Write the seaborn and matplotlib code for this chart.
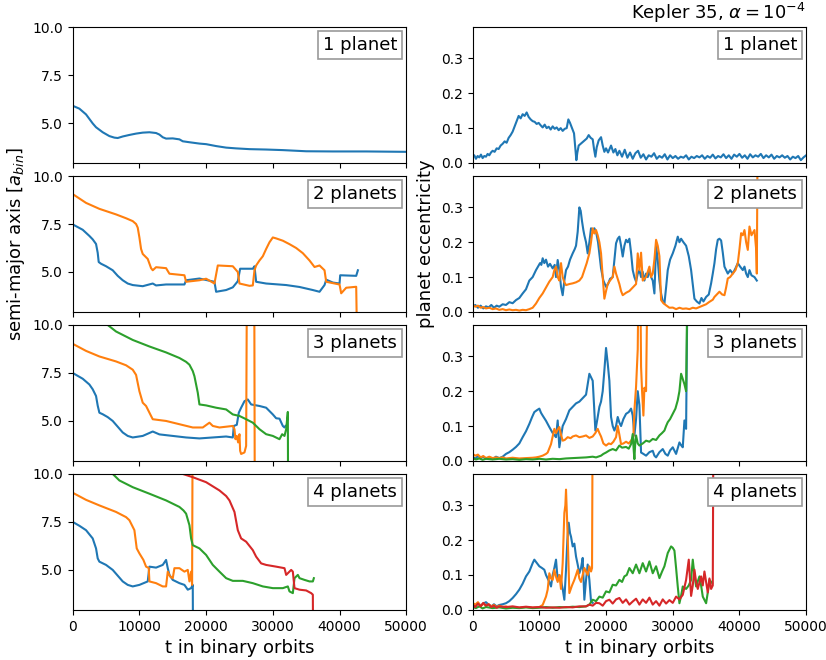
import matplotlib
matplotlib.use("Agg")
import matplotlib.pyplot as plt
import pandas as pd
import seaborn as sns

# Planet tracks (time in binary orbits, value) for Kepler 35, alpha = 1e-4
T_MAX = 50000
PANEL_LABELS = ["1 planet", "2 planets", "3 planets", "4 planets"]
COLORS = ["#1f77b4", "#ff7f0e", "#2ca02c", "#d62728"]

# ---- semi-major axis [a_bin] ----
A1_P1 = [(0, 5.9), (1000, 5.75), (2000, 5.45), (3000, 4.98), (3500, 4.78), (4500, 4.52),
         (5500, 4.32), (6250, 4.24), (6750, 4.22), (7500, 4.3), (8500, 4.38), (9500, 4.45),
         (10500, 4.5), (11500, 4.52), (12500, 4.48), (13000, 4.4), (13500, 4.26),
         (14000, 4.19), (15000, 4.2), (16000, 4.15), (16500, 4.05), (17500, 4.0),
         (19000, 3.93), (20000, 3.9), (21500, 3.8), (23000, 3.72), (24500, 3.68),
         (26500, 3.64), (29000, 3.62), (31500, 3.59), (35000, 3.53), (39000, 3.52),
         (44000, 3.52), (50000, 3.5)]

A2_P1 = [(0, 7.48), (1500, 7.2), (2500, 6.88), (3000, 6.7), (3500, 6.46), (3750, 6.0),
         (3900, 5.52), (4250, 5.43), (5000, 5.3), (6000, 5.09), (6750, 4.8), (7500, 4.57),
         (8250, 4.4), (9000, 4.32), (10500, 4.26), (12000, 4.4), (12500, 4.3), (14000, 4.35),
         (16750, 4.35), (17000, 4.57), (19000, 4.66), (21250, 4.49), (21500, 3.97),
         (23000, 4.06), (24000, 4.2), (24750, 4.52), (25100, 5.17), (27000, 5.17),
         (27250, 5.3), (27500, 4.49), (29000, 4.4), (32000, 4.32), (34000, 4.22),
         (36000, 4.06), (37000, 3.97), (37750, 4.32), (38000, 4.6), (39000, 4.45),
         (40000, 4.4), (40100, 4.83), (42500, 4.8), (42750, 5.09)]
A2_P2 = [(0, 9.06), (2000, 8.6), (4000, 8.29), (6500, 8.0), (8000, 7.8), (9000, 7.65),
         (9500, 7.5), (9750, 7.31), (10000, 6.8), (10250, 6.2), (10500, 5.94),
         (11250, 5.68), (11750, 5.2), (12000, 5.09), (12500, 5.25), (14000, 5.2),
         (14500, 4.91), (16750, 4.83), (17000, 4.49), (19000, 4.57), (20000, 4.65),
         (21250, 4.4), (21750, 5.34), (24000, 5.3), (24750, 5.0), (25000, 4.4),
         (26500, 4.28), (27000, 4.3), (27250, 5.09), (27500, 5.34), (28000, 5.6),
         (28500, 5.82), (29000, 6.2), (29500, 6.55), (30000, 6.8), (30500, 6.75),
         (31500, 6.63), (32500, 6.45), (33500, 6.25), (34500, 5.98), (35500, 5.6),
         (36250, 5.26), (37000, 5.34), (37750, 5.09), (38000, 4.49), (40000, 4.35),
         (40250, 3.89), (41000, 4.18), (42500, 4.23), (42600, 2.0)]

A3_P1 = [(0, 7.5), (1500, 7.2), (2500, 6.9), (3000, 6.65), (3500, 6.3), (3750, 5.8),
         (4000, 5.43), (4500, 5.35), (5250, 5.2), (6000, 5.0), (6750, 4.7), (7500, 4.4),
         (8250, 4.22), (9000, 4.14), (10500, 4.22), (12000, 4.45), (13000, 4.3),
         (15000, 4.22), (17000, 4.14), (19000, 4.09), (21000, 4.14), (23000, 4.19),
         (24000, 4.14), (24150, 4.74), (24600, 4.8), (24900, 5.43), (25250, 5.69),
         (25750, 6.03), (26250, 6.12), (26750, 5.86), (28000, 5.78), (29000, 5.69),
         (30000, 5.34), (30500, 5.14), (31000, 5.12), (31500, 4.74), (31750, 4.66),
         (31900, 4.74)]
A3_P2 = [(0, 9.02), (2000, 8.65), (4000, 8.36), (6500, 8.1), (8000, 7.9), (9000, 7.67),
         (9500, 7.4), (10000, 6.55), (10500, 5.95), (11000, 5.78), (11750, 5.26),
         (12000, 5.09), (14000, 5.0), (16000, 4.83), (18000, 4.66), (19500, 4.66),
         (20500, 4.91), (21000, 4.74), (22000, 4.66), (24000, 4.74), (24250, 4.57),
         (24400, 4.05), (24600, 4.22), (24800, 3.88), (25000, 4.31), (25100, 3.45),
         (25250, 3.28), (25750, 3.36), (26000, 3.7), (26150, 15.0), (27200, 15.0),
         (27300, 0.0)]
A3_P3 = [(0, 11.0), (5250, 10.0), (6500, 9.66), (9000, 9.22), (11500, 8.88), (14000, 8.57),
         (16000, 8.28), (17000, 8.08), (17500, 7.93), (18000, 7.6), (18250, 7.33),
         (18750, 6.47), (19000, 5.86), (20000, 5.81), (21500, 5.69), (23000, 5.6),
         (24000, 5.34), (25000, 5.26), (26000, 5.09), (27000, 4.91), (28000, 4.57),
         (29000, 4.31), (30000, 4.22), (31000, 4.05), (31400, 4.31), (31750, 4.22),
         (32000, 4.57), (32250, 5.47), (32300, 0.0)]

A4_P1 = [(0, 7.5), (1000, 7.3), (2000, 7.07), (3000, 6.64), (3500, 6.12), (3750, 5.6),
         (4000, 5.43), (5000, 5.26), (6000, 5.0), (6750, 4.7), (7500, 4.4), (8250, 4.22),
         (9000, 4.14), (10000, 4.22), (11250, 4.4), (11500, 5.17), (12500, 5.12),
         (13500, 5.26), (14000, 5.52), (14250, 5.09), (14500, 4.74), (15000, 4.48),
         (16000, 4.31), (16750, 4.22), (17250, 3.97), (17750, 4.05), (18000, 4.22),
         (18050, 0.0)]
A4_P2 = [(0, 9.02), (2000, 8.65), (4000, 8.36), (6500, 8.02), (8000, 7.75), (8500, 7.59),
         (9250, 7.07), (9600, 6.12), (10000, 5.86), (10600, 5.52), (11000, 5.17),
         (11400, 5.1), (11500, 4.4), (12500, 4.31), (13500, 4.14), (14000, 4.14),
         (14250, 4.91), (14600, 4.66), (15000, 4.57), (15250, 5.09), (16000, 5.09),
         (16750, 4.91), (17250, 5.0), (17500, 4.4), (17750, 4.91), (17900, 4.22),
         (18000, 15.0)]
A4_P3 = [(0, 11.2), (6000, 10.0), (7000, 9.66), (9000, 9.31), (11500, 8.97), (14000, 8.62),
         (16000, 8.28), (16600, 8.1), (17000, 7.93), (17500, 7.33), (17750, 6.64),
         (18000, 6.29), (19000, 6.12), (20000, 5.78), (21000, 5.26), (22000, 4.91),
         (23000, 4.57), (24000, 4.43), (25500, 4.43), (27000, 4.31), (28500, 4.14),
         (30000, 4.05), (31500, 4.05), (32250, 4.14), (32500, 3.88), (33000, 3.79),
         (33250, 4.57), (33750, 4.74), (34000, 4.57), (34750, 4.48), (35500, 4.4),
         (36000, 4.4), (36150, 4.57)]
A4_P4 = [(0, 12.2), (8000, 11.2), (16500, 10.0), (18000, 9.83), (20000, 9.57),
         (22000, 9.14), (23000, 8.85), (23500, 8.62), (24250, 8.02), (24750, 7.07),
         (25250, 6.64), (26000, 6.47), (27000, 6.03), (27500, 5.69), (28250, 5.34),
         (29000, 5.26), (30500, 5.17), (31750, 5.09), (32000, 4.74), (32750, 5.0),
         (33000, 4.91), (33250, 4.05), (34000, 3.97), (35000, 3.93), (35750, 3.79),
         (36000, 3.71), (36050, 0.0)]

# ---- planet eccentricity ----
E1_P1 = [(0, 0.015), (250, 0.022), (500, 0.012), (750, 0.02), (1000, 0.016), (1250, 0.024),
         (1500, 0.014), (1750, 0.02), (2000, 0.018), (2250, 0.026), (2500, 0.022),
         (2750, 0.03), (3000, 0.035), (3300, 0.032), (3600, 0.042), (3900, 0.04),
         (4200, 0.05), (4500, 0.055), (4800, 0.062), (5100, 0.058), (5400, 0.072),
         (5700, 0.08), (6000, 0.09), (6300, 0.105), (6600, 0.12), (6900, 0.135),
         (7200, 0.128), (7500, 0.14), (7800, 0.135), (8100, 0.145), (8400, 0.132),
         (8700, 0.125), (9000, 0.12), (9300, 0.118), (9600, 0.112), (9900, 0.115),
         (10200, 0.108), (10500, 0.102), (10800, 0.11), (11100, 0.1), (11400, 0.104),
         (11700, 0.096), (12000, 0.105), (12300, 0.098), (12600, 0.102), (12900, 0.094),
         (13200, 0.1), (13500, 0.092), (13800, 0.098), (14100, 0.1), (14350, 0.125),
         (14600, 0.115), (14900, 0.1), (15200, 0.085), (15400, 0.04), (15550, 0.008),
         (15700, 0.03), (15900, 0.05), (16200, 0.055), (16500, 0.06), (16800, 0.065),
         (17100, 0.07), (17400, 0.08), (17700, 0.072), (18000, 0.068), (18200, 0.04),
         (18400, 0.018), (18600, 0.045), (18900, 0.065), (19250, 0.074), (19500, 0.05),
         (19750, 0.032), (20000, 0.042), (20300, 0.03), (20750, 0.05), (21100, 0.03),
         (21400, 0.04), (21700, 0.022), (22000, 0.035), (22400, 0.018), (22800, 0.038),
         (23200, 0.015), (23600, 0.03), (24000, 0.012), (24400, 0.028), (24800, 0.035),
         (25200, 0.015), (25600, 0.025), (26000, 0.01), (26400, 0.022), (26800, 0.018),
         (27200, 0.028), (27600, 0.012), (28000, 0.02), (28400, 0.015), (28800, 0.025),
         (29200, 0.01), (29600, 0.022), (30000, 0.014), (30400, 0.02), (30800, 0.012),
         (31200, 0.018), (31600, 0.015), (32000, 0.022), (32400, 0.01), (32800, 0.018),
         (33200, 0.014), (33600, 0.02), (34000, 0.016), (34400, 0.022), (34800, 0.012),
         (35200, 0.02), (35600, 0.015), (36000, 0.024), (36400, 0.013), (36800, 0.02),
         (37200, 0.016), (37600, 0.025), (38000, 0.014), (38400, 0.022), (38800, 0.012),
         (39200, 0.024), (39600, 0.018), (40000, 0.026), (40400, 0.015), (40800, 0.022),
         (41200, 0.012), (41600, 0.025), (42000, 0.016), (42400, 0.022), (42800, 0.018),
         (43200, 0.026), (43600, 0.014), (44000, 0.022), (44400, 0.016), (44800, 0.024),
         (45200, 0.012), (45600, 0.02), (46000, 0.016), (46400, 0.022), (46800, 0.015),
         (47200, 0.02), (47600, 0.01), (48000, 0.018), (48400, 0.014), (48800, 0.02),
         (49200, 0.008), (49600, 0.016), (50000, 0.022)]

E2_P1 = [(0, 0.015), (400, 0.02), (800, 0.012), (1200, 0.018), (1600, 0.01), (2000, 0.016),
         (2400, 0.013), (2800, 0.02), (3200, 0.012), (3600, 0.018), (4000, 0.015),
         (4500, 0.022), (5000, 0.02), (5500, 0.028), (6000, 0.025), (6500, 0.034),
         (7000, 0.04), (7500, 0.053), (8000, 0.065), (8500, 0.09), (9000, 0.1),
         (9500, 0.12), (9800, 0.13), (10100, 0.14), (10300, 0.135), (10500, 0.154),
         (10750, 0.14), (11000, 0.15), (11300, 0.13), (11600, 0.138), (12000, 0.125),
         (12300, 0.135), (12500, 0.1), (12750, 0.149), (13000, 0.12), (13250, 0.072),
         (13500, 0.048), (13750, 0.09), (14000, 0.12), (14300, 0.13), (14600, 0.15),
         (15000, 0.168), (15300, 0.18), (15500, 0.19), (15750, 0.23), (16000, 0.3),
         (16200, 0.29), (16400, 0.26), (16600, 0.235), (16750, 0.22), (17000, 0.2),
         (17250, 0.168), (17500, 0.2), (17750, 0.24), (18000, 0.235), (18250, 0.24),
         (18500, 0.23), (18800, 0.2), (19250, 0.125), (19600, 0.09), (20000, 0.072),
         (20300, 0.08), (20600, 0.095), (21000, 0.1), (21250, 0.15), (21500, 0.197),
         (21750, 0.21), (22000, 0.216), (22250, 0.19), (22500, 0.159), (22750, 0.19),
         (23000, 0.207), (23250, 0.2), (23500, 0.21), (23750, 0.17), (24000, 0.12),
         (24250, 0.1), (24500, 0.087), (24750, 0.11), (25000, 0.12), (25250, 0.1),
         (25500, 0.115), (25750, 0.09), (26000, 0.11), (26250, 0.1), (26500, 0.12),
         (26750, 0.1), (27000, 0.09), (27250, 0.053), (27500, 0.19), (27750, 0.15),
         (28000, 0.09), (28250, 0.053), (28500, 0.03), (28750, 0.024), (29000, 0.07),
         (29250, 0.12), (29600, 0.15), (30000, 0.168), (30400, 0.19), (30750, 0.216),
         (31000, 0.2), (31250, 0.21), (31600, 0.2), (32000, 0.19), (32400, 0.16),
         (32750, 0.12), (33000, 0.08), (33250, 0.038), (33600, 0.03), (34000, 0.024),
         (34300, 0.04), (34600, 0.03), (35000, 0.043), (35400, 0.05), (35750, 0.082),
         (36000, 0.11), (36250, 0.14), (36500, 0.18), (36750, 0.207), (37000, 0.21),
         (37250, 0.205), (37500, 0.17), (37750, 0.13), (38000, 0.12), (38250, 0.11),
         (38600, 0.12), (39000, 0.11), (39400, 0.125), (39750, 0.14), (40100, 0.13),
         (40500, 0.12), (40750, 0.13), (41000, 0.11), (41250, 0.1), (41500, 0.12),
         (41800, 0.105), (42250, 0.1), (42600, 0.09)]
E2_P2 = [(0, 0.02), (400, 0.015), (800, 0.018), (1200, 0.012), (1600, 0.014), (2000, 0.01),
         (2500, 0.012), (3000, 0.008), (3500, 0.01), (4000, 0.006), (4500, 0.008),
         (5000, 0.005), (5500, 0.007), (6000, 0.005), (6500, 0.006), (7000, 0.004),
         (7500, 0.006), (8000, 0.005), (8500, 0.008), (9000, 0.012), (9500, 0.024),
         (10000, 0.04), (10500, 0.053), (11000, 0.07), (11500, 0.087), (12000, 0.1),
         (12250, 0.12), (12500, 0.13), (12750, 0.1), (13000, 0.09), (13250, 0.14),
         (13500, 0.1), (13750, 0.085), (14000, 0.077), (14500, 0.08), (15000, 0.082),
         (15500, 0.085), (16000, 0.09), (16400, 0.1), (16750, 0.12), (17100, 0.14),
         (17500, 0.168), (17750, 0.2), (18000, 0.24), (18250, 0.225), (18500, 0.235),
         (18750, 0.22), (19000, 0.2), (19250, 0.168), (19500, 0.1), (19750, 0.038),
         (20000, 0.06), (20250, 0.08), (20600, 0.09), (21000, 0.1), (21250, 0.13),
         (21500, 0.11), (22000, 0.08), (22250, 0.06), (22500, 0.048), (23000, 0.055),
         (23500, 0.06), (24000, 0.07), (24500, 0.08), (24750, 0.168), (25000, 0.12),
         (25250, 0.17), (25500, 0.09), (26000, 0.1), (26250, 0.115), (26500, 0.13),
         (26750, 0.1), (27000, 0.11), (27250, 0.15), (27500, 0.207), (27750, 0.19),
         (28000, 0.16), (28250, 0.034), (28600, 0.025), (29000, 0.019), (29500, 0.012),
         (30000, 0.0125), (30500, 0.008), (31000, 0.012), (31500, 0.009), (32000, 0.01),
         (32500, 0.008), (33000, 0.012), (33500, 0.01), (34000, 0.014), (34500, 0.018),
         (35000, 0.022), (35500, 0.029), (36000, 0.035), (36250, 0.043), (36600, 0.05),
         (37000, 0.058), (37400, 0.05), (37750, 0.048), (38000, 0.07), (38250, 0.096),
         (38600, 0.1), (39000, 0.11), (39400, 0.12), (39750, 0.14), (40000, 0.18),
         (40250, 0.226), (40500, 0.22), (40750, 0.235), (41000, 0.2), (41250, 0.178),
         (41500, 0.245), (41800, 0.22), (42250, 0.235), (42500, 0.18), (42600, 0.11),
         (42750, 0.6)]

E3_P1 = [(0, 0.012), (400, 0.006), (800, 0.014), (1200, 0.008), (1600, 0.012), (2000, 0.006),
         (2500, 0.01), (3000, 0.005), (3500, 0.012), (4000, 0.008), (4500, 0.012),
         (5000, 0.02), (5500, 0.025), (6000, 0.032), (6500, 0.04), (7000, 0.05),
         (7500, 0.068), (8000, 0.085), (8500, 0.106), (8900, 0.125), (9250, 0.14),
         (9600, 0.145), (10000, 0.15), (10250, 0.138), (10500, 0.13), (11000, 0.115),
         (11500, 0.097), (12000, 0.08), (12500, 0.068), (12750, 0.116), (13000, 0.039),
         (13250, 0.07), (13500, 0.1), (14000, 0.12), (14500, 0.145), (15000, 0.155),
         (15500, 0.165), (16000, 0.17), (16500, 0.18), (17000, 0.19), (17250, 0.22),
         (17500, 0.25), (17750, 0.24), (18000, 0.23), (18200, 0.16), (18400, 0.087),
         (18700, 0.12), (19000, 0.155), (19250, 0.17), (19500, 0.2), (19750, 0.26),
         (20000, 0.324), (20250, 0.28), (20500, 0.23), (20750, 0.126), (21000, 0.1),
         (21250, 0.087), (21500, 0.1), (21750, 0.126), (22000, 0.11), (22250, 0.1),
         (22600, 0.12), (23000, 0.135), (23400, 0.14), (23750, 0.15), (24000, 0.13),
         (24250, 0.073), (24500, 0.12), (24750, 0.2), (25000, 0.16), (25250, 0.024),
         (25600, 0.02), (26000, 0.015), (26500, 0.025), (27000, 0.029), (27250, 0.015),
         (27500, 0.01), (28000, 0.025), (28500, 0.034), (28900, 0.02), (29250, 0.015),
         (29600, 0.03), (30000, 0.039), (30500, 0.02), (31000, 0.053), (31250, 0.045),
         (31500, 0.039), (31750, 0.116), (32000, 0.092), (32250, 0.6)]
E3_P2 = [(0, 0.02), (400, 0.015), (800, 0.018), (1200, 0.01), (1600, 0.014), (2000, 0.008),
         (2500, 0.012), (3000, 0.008), (3500, 0.01), (4000, 0.008), (4500, 0.01),
         (5000, 0.007), (6000, 0.009), (7000, 0.007), (8000, 0.008), (9000, 0.009),
         (9500, 0.01), (10000, 0.012), (10500, 0.015), (11000, 0.02), (11250, 0.024),
         (11750, 0.048), (12000, 0.07), (12250, 0.092), (12500, 0.08), (12750, 0.09),
         (13000, 0.097), (13250, 0.075), (13500, 0.058), (13800, 0.06), (14250, 0.068),
         (14700, 0.065), (15000, 0.07), (15500, 0.073), (16000, 0.068), (16500, 0.07),
         (17000, 0.073), (17500, 0.066), (18000, 0.07), (18400, 0.08), (18750, 0.092),
         (19000, 0.08), (19250, 0.07), (19600, 0.05), (20000, 0.044), (20400, 0.05),
         (20750, 0.048), (21100, 0.055), (21500, 0.068), (21750, 0.1), (22000, 0.075),
         (22250, 0.048), (22600, 0.05), (23000, 0.055), (23400, 0.05), (23750, 0.058),
         (24000, 0.065), (24100, 0.07), (24250, 0.145), (24500, 0.213), (24750, 0.32),
         (24900, 0.6), (25100, 0.6), (25250, 0.27), (25400, 0.2), (25600, 0.13),
         (25750, 0.21), (26000, 0.2), (26250, 0.6)]
E3_P3 = [(0, 0.008), (500, 0.004), (1000, 0.007), (1500, 0.003), (2000, 0.006), (3000, 0.004),
         (4000, 0.006), (5000, 0.004), (6000, 0.005), (7000, 0.003), (8000, 0.005),
         (9000, 0.004), (10000, 0.006), (11000, 0.004), (12000, 0.006), (13000, 0.005),
         (14000, 0.007), (15000, 0.008), (16000, 0.009), (17000, 0.01), (18000, 0.012),
         (18500, 0.01), (19250, 0.015), (19600, 0.02), (20000, 0.024), (20500, 0.03),
         (21000, 0.034), (21500, 0.03), (22000, 0.044), (22400, 0.038), (23000, 0.04),
         (23400, 0.035), (23750, 0.048), (24000, 0.077), (24150, 0.03), (24250, 0.005),
         (24400, 0.06), (24500, 0.073), (24750, 0.05), (25000, 0.044), (25500, 0.05),
         (26000, 0.058), (26500, 0.055), (27000, 0.063), (27500, 0.06), (28000, 0.073),
         (28400, 0.08), (28750, 0.087), (29000, 0.1), (29250, 0.111), (29600, 0.12),
         (30000, 0.135), (30400, 0.15), (30750, 0.174), (31000, 0.2), (31250, 0.25),
         (31500, 0.235), (31750, 0.22), (32000, 0.2), (32250, 0.6)]

E4_P1 = [(0, 0.015), (400, 0.01), (800, 0.02), (1200, 0.012), (1600, 0.018), (2000, 0.022),
         (2400, 0.015), (2800, 0.01), (3200, 0.016), (3600, 0.01), (4000, 0.014),
         (4500, 0.016), (5000, 0.019), (5500, 0.025), (6000, 0.034), (6500, 0.045),
         (7000, 0.058), (7500, 0.075), (8000, 0.096), (8500, 0.11), (9000, 0.134),
         (9250, 0.144), (9600, 0.135), (10000, 0.125), (10400, 0.12), (10750, 0.115),
         (11000, 0.1), (11250, 0.09), (11500, 0.08), (11750, 0.067), (12000, 0.1),
         (12250, 0.12), (12500, 0.144), (12750, 0.086), (13000, 0.1), (13250, 0.085),
         (13500, 0.06), (13750, 0.029), (14000, 0.115), (14200, 0.2), (14400, 0.25),
         (14600, 0.22), (14750, 0.21), (15000, 0.182), (15250, 0.19), (15500, 0.153),
         (15750, 0.13), (16000, 0.105), (16250, 0.12), (16500, 0.149), (16750, 0.029),
         (17000, 0.086), (17250, 0.13), (17500, 0.086), (17750, 0.024), (18000, 0.02)]
E4_P2 = [(0, 0.02), (400, 0.015), (800, 0.022), (1200, 0.01), (1600, 0.018), (2000, 0.012),
         (2400, 0.016), (2800, 0.01), (3200, 0.014), (3600, 0.008), (4000, 0.012),
         (4500, 0.008), (5000, 0.01), (5500, 0.006), (6000, 0.008), (7000, 0.006),
         (8000, 0.008), (9000, 0.006), (10000, 0.008), (10500, 0.014), (11000, 0.038),
         (11250, 0.058), (11500, 0.105), (11750, 0.09), (12000, 0.086), (12250, 0.115),
         (12500, 0.095), (12750, 0.08), (13000, 0.1), (13250, 0.06), (13500, 0.134),
         (13750, 0.278), (13900, 0.3), (14000, 0.345), (14250, 0.21), (14500, 0.048),
         (14900, 0.07), (15250, 0.086), (15500, 0.1), (15750, 0.115), (16000, 0.09),
         (16250, 0.08), (16500, 0.1), (16750, 0.12), (17000, 0.11), (17250, 0.1),
         (17500, 0.125), (17750, 0.11), (17900, 0.12), (18000, 0.6)]
E4_P3 = [(0, 0.008), (500, 0.005), (1000, 0.01), (1500, 0.004), (2000, 0.008), (3000, 0.005),
         (4000, 0.007), (5000, 0.004), (6000, 0.006), (7000, 0.005), (8000, 0.007),
         (9000, 0.005), (10000, 0.006), (11000, 0.008), (12000, 0.006), (13000, 0.008),
         (14000, 0.007), (15000, 0.009), (16000, 0.008), (17000, 0.01), (17500, 0.015),
         (18000, 0.029), (18500, 0.025), (19000, 0.038), (19500, 0.035), (20000, 0.053),
         (20500, 0.05), (21000, 0.072), (21500, 0.07), (22000, 0.086), (22400, 0.08),
         (22750, 0.096), (23100, 0.1), (23500, 0.12), (24000, 0.105), (24500, 0.13),
         (25000, 0.105), (25500, 0.134), (26000, 0.11), (26500, 0.139), (27000, 0.105),
         (27500, 0.125), (28000, 0.091), (28400, 0.11), (28750, 0.125), (29250, 0.163),
         (29750, 0.182), (30000, 0.178), (30250, 0.17), (30500, 0.12), (30750, 0.067),
         (31000, 0.019), (31250, 0.04), (31500, 0.067), (32000, 0.06), (32400, 0.07),
         (32750, 0.086), (33000, 0.144), (33250, 0.1), (33500, 0.067), (34000, 0.096),
         (34250, 0.07), (34500, 0.038), (35000, 0.019), (35250, 0.05), (35500, 0.086),
         (35900, 0.077)]
E4_P4 = [(0, 0.015), (400, 0.008), (800, 0.018), (1200, 0.01), (1600, 0.02), (2000, 0.012),
         (2400, 0.016), (2800, 0.008), (3200, 0.012), (3600, 0.006), (4000, 0.01),
         (5000, 0.008), (6000, 0.01), (7000, 0.007), (8000, 0.009), (9000, 0.007),
         (10000, 0.008), (11000, 0.006), (12000, 0.007), (13000, 0.006), (14000, 0.008),
         (15000, 0.007), (16000, 0.01), (17000, 0.01), (17500, 0.015), (18000, 0.012),
         (18500, 0.02), (19000, 0.019), (19500, 0.012), (20000, 0.025), (20500, 0.029),
         (21000, 0.018), (21500, 0.03), (22000, 0.034), (22500, 0.02), (23000, 0.03),
         (23500, 0.015), (24000, 0.024), (24500, 0.032), (25000, 0.015), (25500, 0.03),
         (26000, 0.02), (26500, 0.035), (27000, 0.015), (27500, 0.025), (28000, 0.012),
         (28500, 0.03), (29000, 0.018), (29500, 0.028), (30000, 0.02), (30500, 0.038),
         (31000, 0.03), (31500, 0.043), (32000, 0.086), (32400, 0.144), (32750, 0.04),
         (33000, 0.07), (33250, 0.115), (33500, 0.08), (33750, 0.06), (34250, 0.096),
         (34500, 0.07), (34750, 0.11), (35000, 0.08), (35250, 0.05), (35500, 0.09),
         (35750, 0.06), (36000, 0.07), (36100, 0.6)]

SEMI_MAJOR = [[A1_P1], [A2_P1, A2_P2], [A3_P1, A3_P2, A3_P3], [A4_P1, A4_P2, A4_P3, A4_P4]]
ECCENTRICITY = [[E1_P1], [E2_P1, E2_P2], [E3_P1, E3_P2, E3_P3], [E4_P1, E4_P2, E4_P3, E4_P4]]


def draw_tracks(ax, tracks):
    for k, track in enumerate(tracks):
        df = pd.DataFrame(track, columns=["t", "value"])
        sns.lineplot(data=df, x="t", y="value", ax=ax, color=COLORS[k],
                     estimator=None, sort=False, linewidth=1.5)


def label_box(ax, text):
    ax.annotate(text, xy=(1, 1), xycoords="axes fraction", xytext=(-9, -9),
                textcoords="offset pixels", ha="right", va="top", fontsize=13,
                bbox=dict(boxstyle="square,pad=0.28", fc="white", ec="0.6", lw=1.2))


fig, axes = plt.subplots(4, 2, figsize=(8.26, 6.6), dpi=100, sharex=True)
fig.subplots_adjust(left=0.088, right=0.976, top=0.959, bottom=0.076,
                    wspace=0.199, hspace=0.096)

for row in range(4):
    ax_a, ax_e = axes[row, 0], axes[row, 1]
    draw_tracks(ax_a, SEMI_MAJOR[row])
    draw_tracks(ax_e, ECCENTRICITY[row])

    ax_a.set_ylim(2.92, 10.0)
    ax_a.set_yticks([5.0, 7.5, 10.0])
    ax_e.set_ylim(0.0, 0.39)
    ax_e.set_yticks([0.0, 0.1, 0.2, 0.3])
    for ax in (ax_a, ax_e):
        ax.set_xlim(0, T_MAX)
        ax.set_xticks([0, 10000, 20000, 30000, 40000, 50000])
        ax.set_xlabel("")
        ax.set_ylabel("")
        label_box(ax, PANEL_LABELS[row])

axes[1, 0].set_ylabel("semi-major axis [$a_{bin}$]", fontsize=13)
axes[1, 1].set_ylabel("planet eccentricity", fontsize=13)
axes[3, 0].set_xlabel("t in binary orbits", fontsize=13)
axes[3, 1].set_xlabel("t in binary orbits", fontsize=13)
axes[0, 1].set_title("Kepler 35, $\\alpha = 10^{-4}$", loc="right", fontsize=13)

fig.savefig("out.png", dpi=100)
